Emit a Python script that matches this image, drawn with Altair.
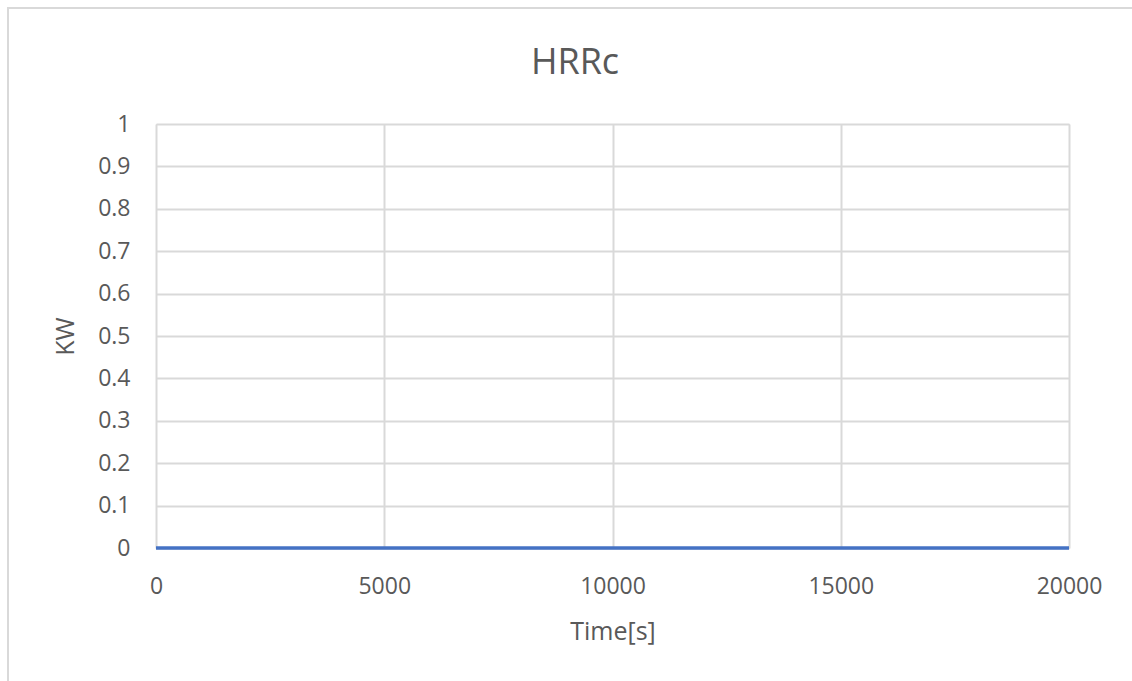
import altair as alt
import pandas as pd

# Data (HRRc is zero across the whole time span)
time_s = [0, 5000, 10000, 15000, 20000]
hrrc_kw = [0, 0, 0, 0, 0]

x_ticks = [0, 5000, 10000, 15000, 20000]
y_ticks = [0, 0.1, 0.2, 0.3, 0.4, 0.5, 0.6, 0.7, 0.8, 0.9, 1]

chart_title = "HRRc"

df = pd.DataFrame({"time": time_s, "hrrc": hrrc_kw})

FONT = "Open Sans"
TXT = "#595959"
GRID = "#D9D9D9"

base = alt.Chart(df)

line = base.mark_line(color="#4472C4", strokeWidth=3.5).encode(
    x=alt.X(
        "time:Q",
        scale=alt.Scale(domain=[0, 20000], nice=False, zero=False),
        axis=alt.Axis(
            values=x_ticks,
            format="d",
            title="Time[s]",
            grid=True,
            gridColor=GRID,
            gridWidth=2,
            domain=False,
            ticks=False,
            labelFlush=False,
            labelPadding=27,
            labelFontSize=23,
            labelColor=TXT,
            labelFont=FONT,
            titleFont=FONT,
            titleFontSize=25,
            titleFontWeight="normal",
            titleColor=TXT,
            titlePadding=21,
        ),
    ),
    y=alt.Y(
        "hrrc:Q",
        scale=alt.Scale(domain=[0, 1], nice=False),
        axis=alt.Axis(
            values=y_ticks,
            format="~g",
            title="KW",
            grid=True,
            gridColor=GRID,
            gridWidth=2,
            domain=False,
            ticks=False,
            labelPadding=26,
            labelFontSize=23,
            labelColor=TXT,
            labelFont=FONT,
            titleFont=FONT,
            titleFontSize=25,
            titleFontWeight="normal",
            titleColor=TXT,
            titlePadding=19,
        ),
    ),
)

border = alt.Chart(alt.Data(values=[{}])).mark_rect(
    fill=None, fillOpacity=0, stroke="#D9D9D9", strokeWidth=2
).encode(
    x=alt.value(-148),
    x2=alt.value(1300),
    y=alt.value(-116),
    y2=alt.value(900),
)

title_text = alt.Chart(alt.Data(values=[{"t": chart_title}])).mark_text(
    font=FONT, fontSize=36, color=TXT, align="center", baseline="middle"
).encode(
    text="t:N",
    x=alt.value(419),
    y=alt.value(-61),
)

chart = (
    alt.layer(border, line, title_text)
    .properties(
        width=913,
        height=424,
        autosize=alt.AutoSizeParams(type="none"),
        padding={"left": 156, "top": 124, "right": 63, "bottom": 133},
    )
    .configure_view(stroke=None)
    .configure(background="white")
)

chart.save("out.html", embed_options={"renderer": "svg", "actions": False})
